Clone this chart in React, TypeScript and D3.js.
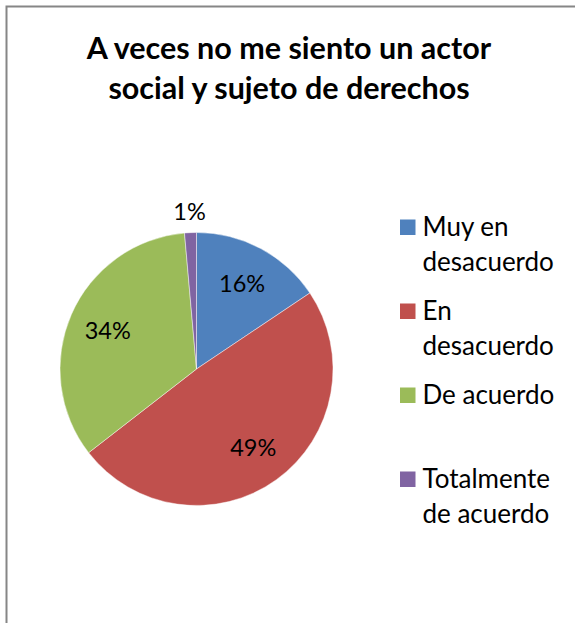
import React from 'react';
import * as d3 from 'd3';

const titleLines = ['A veces no me siento un actor', 'social y sujeto de derechos'];
const categories = ['Muy en desacuerdo', 'En desacuerdo', 'De acuerdo', 'Totalmente de acuerdo'];
const legendLines = [['Muy en', 'desacuerdo'], ['En', 'desacuerdo'], ['De acuerdo'], ['Totalmente', 'de acuerdo']];
const values = [15.6, 48.9, 34.1, 1.4];
const colors = ['#4F81BD', '#C0504D', '#9BBB59', '#8064A2'];

const W = 575;
const H = 623;
const FONT = 'Lato, "Open Sans", sans-serif';

export default function App() {
  const cx = 196.5;
  const cy = 369;
  const r = 136.5;
  const total = d3.sum(values);
  const pie = d3.pie<number>().sort(null).value((d) => d);
  const arcs = pie(values);
  const arc = d3.arc<d3.PieArcDatum<number>>().innerRadius(0).outerRadius(r);
  const inLabel = d3.arc<d3.PieArcDatum<number>>().innerRadius(r * 0.71).outerRadius(r * 0.71);
  const outLabel = d3.arc<d3.PieArcDatum<number>>().innerRadius(r + 21).outerRadius(r + 21);
  const legendY = d3.scaleLinear().domain([0, 1]).range([219.5, 303.5]);

  return (
    <svg width={W} height={H} style={{ position: 'absolute', left: 0, top: 0, display: 'block' }} fontFamily={FONT}>
      <rect x={0} y={0} width={W} height={H} fill="#fff" />
      <rect x={6.5} y={6.5} width={W + 20} height={H + 20} fill="#fff" stroke="#868686" strokeWidth={2} />
      {titleLines.map((t, i) => (
        <text key={t} x={289} y={58.5 + i * 40} textAnchor="middle" fontWeight="bold" fontSize={30.5} fill="#000">
          {t}
        </text>
      ))}
      <g transform={`translate(${cx},${cy})`}>
        {arcs.map((a, i) => (
          <path key={categories[i]} d={arc(a) || ''} fill={colors[i]} stroke="#fff" strokeOpacity={0.6} strokeWidth={0.75} />
        ))}
        {arcs.map((a, i) => {
          const pct = (a.data / total) * 100;
          const [lx, ly] = pct < 3 ? outLabel.centroid(a) : inLabel.centroid(a);
          return (
            <text key={'l' + i} x={lx} y={ly} dy="0.36em" textAnchor="middle" fontSize={23.5} fill="#000">
              {`${Math.round(pct)}%`}
            </text>
          );
        })}
      </g>
      {categories.map((c, i) => {
        const y0 = legendY(i);
        return (
          <g key={c}>
            <rect x={400} y={y0} width={15.5} height={15.5} fill={colors[i]} />
            {legendLines[i].map((ln, j) => (
              <text key={ln} x={422.5} y={y0 + 16.5 + j * 34.5} fontSize={26} fill="#000">
                {ln}
              </text>
            ))}
          </g>
        );
      })}
    </svg>
  );
}
